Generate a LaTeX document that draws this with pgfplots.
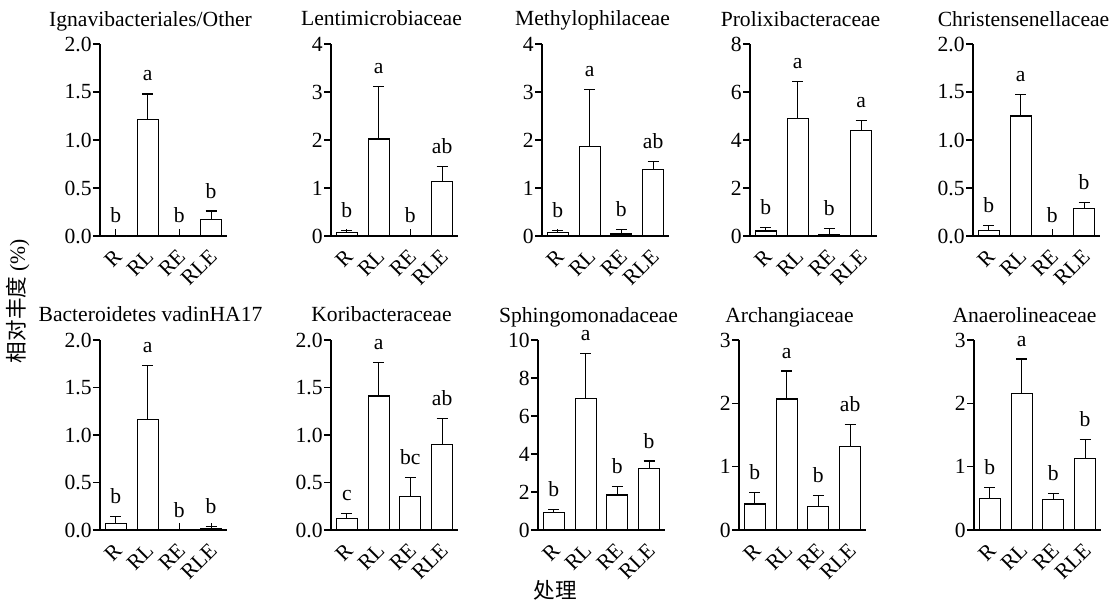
\documentclass[border=0pt]{standalone}
\usepackage{pgfplots}
\pgfplotsset{compat=1.18}
\usepackage{pgfplotstable}
\usepackage{fontspec}
\setmainfont{Liberation Serif}
\newfontfamily\cjk{Noto Sans CJK SC}

% x v e lab : bar value, upper error, letter
\pgfplotstableread{
x v e lab
0 0.00 0.00 b
1 1.21 0.27 a
2 0.00 0.00 b
3 0.17 0.09 b
}\tA
\pgfplotstableread{
x v e lab
0 0.07 0.05 b
1 2.02 1.10 a
2 0.00 0.00 b
3 1.13 0.31 ab
}\tB
\pgfplotstableread{
x v e lab
0 0.07 0.05 b
1 1.87 1.19 a
2 0.04 0.09 b
3 1.39 0.16 ab
}\tC
\pgfplotstableread{
x v e lab
0 0.21 0.15 b
1 4.90 1.53 a
2 0.05 0.25 b
3 4.38 0.42 a
}\tD
\pgfplotstableread{
x v e lab
0 0.06 0.05 b
1 1.25 0.22 a
2 0.00 0.00 b
3 0.29 0.06 b
}\tE
\pgfplotstableread{
x v e lab
0 0.07 0.07 b
1 1.16 0.57 a
2 0.00 0.00 b
3 0.02 0.02 b
}\tF
\pgfplotstableread{
x v e lab
0 0.12 0.05 c
1 1.41 0.35 a
2 0.35 0.20 bc
3 0.90 0.27 ab
}\tG
\pgfplotstableread{
x v e lab
0 0.93 0.14 b
1 6.91 2.39 a
2 1.84 0.44 b
3 3.25 0.38 b
}\tH
\pgfplotstableread{
x v e lab
0 0.41 0.18 b
1 2.07 0.44 a
2 0.37 0.18 b
3 1.32 0.34 ab
}\tI
\pgfplotstableread{
x v e lab
0 0.50 0.17 b
1 2.15 0.55 a
2 0.48 0.10 b
3 1.13 0.30 b
}\tJ

\pgfplotsset{
  panel/.style={
    scale only axis, width=63.5pt, anchor=south west,
    xmin=-0.5, xmax=3.5, ymin=0,
    axis lines*=left, axis line style={-, line width=0.6pt},
    clip=false,
    font=\fontsize{10.8}{12}\selectfont,
    /pgf/number format/assume math mode=true,
    xtick={0,1,2,3}, xticklabels={R,RL,RE,RLE},
    x tick label style={rotate=45, anchor=north east, inner sep=1pt, yshift=-2pt, xshift=-4pt},
    y tick label style={inner sep=0.5pt},
    xtick align=inside, ytick align=outside,
    major tick length=3.5pt,
    tick style={line width=0.6pt, black},
    every axis title/.style={at={(0.5,1)}, anchor=base, yshift=9pt, xshift=-6.5pt},
  },
  dec/.style={yticklabel style={/pgf/number format/.cd, fixed, fixed zerofill, precision=1}},
  bars/.style={ybar, bar width=10.5pt, fill=white, draw=black, line width=0.6pt,
    error bars/.cd, y dir=plus, y explicit,
    error bar style={line width=0.6pt},
    error mark options={rotate=90, mark size=2.75pt, line width=0.6pt}},
  letters/.style={only marks, mark=none, nodes near coords, point meta=explicit symbolic,
    every node near coord/.append style={anchor=base, yshift=6.5pt, inner sep=0pt}},
}
\newcommand{\plotdata}[1]{%
  \addplot[bars] table[x=x, y=v, y error=e] {#1};
  \addplot[letters] table[x=x, y expr=\thisrow{v}+\thisrow{e}, meta=lab] {#1};
}

\begin{document}
\begin{tikzpicture}
\useasboundingbox (0,0) rectangle (555pt,300.5pt);

% row 1
\begin{axis}[panel, dec, at={(50pt,182.5pt)}, height=96pt, ymax=2, ytick={0,0.5,...,2},
  title={Ignavibacteriales/Other}]
\plotdata{\tA}
\end{axis}
\begin{axis}[panel, at={(165.5pt,182.5pt)}, height=96pt, ymax=4, ytick={0,1,...,4},
  title={Lentimicrobiaceae}]
\plotdata{\tB}
\end{axis}
\begin{axis}[panel, at={(271pt,182.5pt)}, height=96pt, ymax=4, ytick={0,1,...,4},
  title={Methylophilaceae}]
\plotdata{\tC}
\end{axis}
\begin{axis}[panel, at={(375pt,182.5pt)}, height=96pt, ymax=8, ytick={0,2,...,8},
  title={Prolixibacteraceae}]
\plotdata{\tD}
\end{axis}
\begin{axis}[panel, dec, at={(486.5pt,182.5pt)}, height=96pt, ymax=2, ytick={0,0.5,...,2},
  title={Christensenellaceae}]
\plotdata{\tE}
\end{axis}

% row 2
\begin{axis}[panel, dec, at={(50pt,35.5pt)}, height=95pt, ymax=2, ytick={0,0.5,...,2},
  title={Bacteroidetes vadinHA17}]
\plotdata{\tF}
\end{axis}
\begin{axis}[panel, dec, at={(165.5pt,35.5pt)}, height=95pt, ymax=2, ytick={0,0.5,...,2},
  title={Koribacteraceae}]
\plotdata{\tG}
\end{axis}
\begin{axis}[panel, at={(269pt,35.5pt)}, height=95pt, ymax=10, ytick={0,2,...,10},
  title={Sphingomonadaceae}]
\plotdata{\tH}
\end{axis}
\begin{axis}[panel, at={(369.5pt,35.5pt)}, height=95pt, ymax=3, ytick={0,1,2,3},
  title={Archangiaceae}]
\plotdata{\tI}
\end{axis}
\begin{axis}[panel, at={(487pt,35.5pt)}, height=95pt, ymax=3, ytick={0,1,2,3},
  title={Anaerolineaceae}]
\plotdata{\tJ}
\end{axis}

% shared labels
\node[rotate=90, font=\fontsize{10.8}{12}\selectfont] at (9pt,150pt) {{\cjk 相对丰度} (\%)};
\node[font=\fontsize{10.8}{12}\selectfont] at (277.5pt,5.5pt) {\cjk 处理};
\end{tikzpicture}
\end{document}
